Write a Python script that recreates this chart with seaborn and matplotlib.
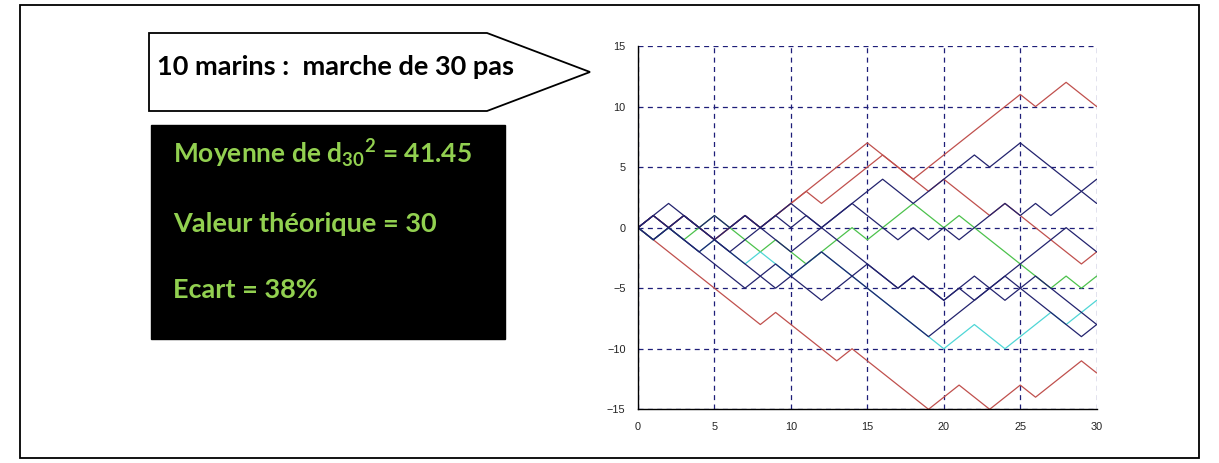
import matplotlib
matplotlib.use("Agg")
import numpy as np
import pandas as pd
import matplotlib.pyplot as plt
import seaborn as sns
from matplotlib.patches import Polygon, Rectangle

sns.set_style("white")
plt.rcParams["font.family"] = ["Lato", "DejaVu Sans"]
plt.rcParams["mathtext.default"] = "regular"

# ---------------- data : 10 marches de 30 pas ----------------
pas = list(range(31))

rouge_haut = [0, 1, 0, 1, 0, -1, 0, 1, 0, 1, 2, 3, 4, 5, 6, 7, 6, 5, 4, 5, 6,
              7, 8, 9, 10, 11, 10, 11, 12, 11, 10]
rouge_milieu = [0, 1, 0, 1, 0, -1, 0, 1, 0, 1, 2, 3, 2, 3, 4, 5, 6, 5, 4, 3, 4,
                3, 2, 1, 2, 1, 0, -1, -2, -3, -2]
rouge_bas = [0, -1, -2, -3, -4, -5, -6, -7, -8, -7, -8, -9, -10, -11, -10, -11,
             -12, -13, -14, -15, -14, -13, -14, -15, -14, -13, -14, -13, -12, -11, -12]
vert = [0, -1, 0, -1, 0, 1, 0, -1, -2, -1, -2, -3, -2, -1, 0, -1, 0, 1, 2, 1, 0,
        1, 0, -1, -2, -3, -4, -5, -4, -5, -4]
cyan = [0, -1, 0, -1, -2, -1, -2, -3, -2, -3, -4, -3, -2, -3, -4, -5, -6, -7, -8,
        -9, -10, -9, -8, -9, -10, -9, -8, -7, -8, -7, -6]
bleu_1 = [0, 1, 0, 1, 0, -1, 0, 1, 0, 1, 2, 1, 0, 1, 2, 3, 4, 3, 2, 3, 4, 5, 6,
          5, 6, 7, 6, 5, 4, 3, 2]
bleu_2 = [0, -1, 0, 1, 0, 1, 0, 1, 0, -1, -2, -1, 0, 1, 2, 1, 0, -1, 0, -1, 0,
          -1, 0, 1, 2, 1, 2, 1, 2, 3, 4]
bleu_3 = [0, 1, 2, 1, 0, -1, -2, -3, -4, -5, -4, -3, -2, -3, -4, -5, -6, -7, -8,
          -9, -8, -7, -6, -5, -6, -5, -6, -7, -8, -9, -8]
bleu_4 = [0, 1, 0, -1, -2, -3, -4, -5, -4, -3, -4, -5, -6, -5, -4, -3, -4, -5,
          -4, -5, -6, -5, -6, -5, -4, -5, -4, -5, -6, -7, -8]
bleu_5 = [0, -1, 0, -1, -2, -1, -2, -1, 0, 1, 0, 1, 0, -1, -2, -3, -4, -5, -4,
          -5, -6, -5, -4, -5, -4, -3, -2, -1, 0, -1, -2]

marins = {
    "rouge_haut": rouge_haut, "rouge_milieu": rouge_milieu, "rouge_bas": rouge_bas,
    "vert": vert, "cyan": cyan,
    "bleu_1": bleu_1, "bleu_2": bleu_2, "bleu_3": bleu_3, "bleu_4": bleu_4, "bleu_5": bleu_5,
}
couleurs = {
    "rouge_haut": "#c0504d", "rouge_milieu": "#c0504d", "rouge_bas": "#c0504d",
    "vert": "#4cc24c", "cyan": "#4fd6d6",
    "bleu_1": "#23236e", "bleu_2": "#23236e", "bleu_3": "#23236e",
    "bleu_4": "#23236e", "bleu_5": "#23236e",
}

df = pd.concat(
    [pd.DataFrame({"pas": pas, "position": v, "marin": k}) for k, v in marins.items()],
    ignore_index=True,
)

# ---------------- figure ----------------
W, H = 1219, 463
fig = plt.figure(figsize=(W / 100, H / 100), dpi=100)


def fx(x):
    return x / W


def fy(y):
    return 1 - y / H


# outer frame
fig.add_artist(Rectangle((fx(20), fy(458)), fx(1199) - fx(20), fy(5) - fy(458),
                         transform=fig.transFigure, fill=False, ec="black", lw=1.3))

# arrow-shaped title box
pent = [(149, 33), (487, 33), (590, 72), (487, 111), (149, 111)]
fig.add_artist(Polygon([(fx(x), fy(y)) for x, y in pent], closed=True,
                       transform=fig.transFigure, fc="white", ec="black", lw=1.3))
fig.text(fx(157), fy(75), "10 marins :  marche de 30 pas", fontsize=19.5,
         fontweight="bold", color="black", va="baseline", ha="left")

# black results box
fig.add_artist(Rectangle((fx(151), fy(339)), fx(505) - fx(151), fy(125) - fy(339),
                         transform=fig.transFigure, fc="black", ec="black"))
vert_txt = "#92d050"
fig.text(fx(173), fy(163), r"Moyenne de d$_{30}$$^{2}$ = 41.45", fontsize=19,
         fontweight="bold", color=vert_txt, va="baseline", ha="left")
fig.text(fx(173), fy(232), "Valeur théorique = 30", fontsize=19.5,
         fontweight="bold", color=vert_txt, va="baseline", ha="left")
fig.text(fx(173), fy(298), "Ecart = 38%", fontsize=19.5,
         fontweight="bold", color=vert_txt, va="baseline", ha="left")

# walk plot
ax = fig.add_axes([fx(638), fy(409.3), fx(1096.7) - fx(638), fy(46) - fy(409.3)])
sns.lineplot(data=df, x="pas", y="position", hue="marin", hue_order=list(marins),
             palette=couleurs, legend=False, linewidth=0.9, sort=False,
             estimator=None, ax=ax)

ax.set_xlim(0, 30)
ax.set_ylim(-15, 15)
ax.set_xticks(range(0, 31, 5))
ax.set_xticks(range(0, 31), minor=True)
ax.set_yticks(range(-15, 16, 5))
ax.set_yticks(range(-15, 16), minor=True)
ax.grid(which="major", color="#1e1e78", linestyle=(0, (4, 3.5)), linewidth=0.9)
ax.set_axisbelow(True)
ax.tick_params(which="major", length=7, width=0.8, labelsize=7.8,
               labelcolor="#222222", pad=2)
ax.tick_params(which="minor", length=3.5, width=0.7)
for lab in ax.get_xticklabels() + ax.get_yticklabels():
    lab.set_family(["Liberation Sans", "DejaVu Sans"])
ax.set_xlabel("")
ax.set_ylabel("")
for side in ["top", "right"]:
    ax.spines[side].set_visible(False)
for side in ["left", "bottom"]:
    ax.spines[side].set_color("black")
    ax.spines[side].set_linewidth(1.0)

fig.savefig("out.png", dpi=100)
